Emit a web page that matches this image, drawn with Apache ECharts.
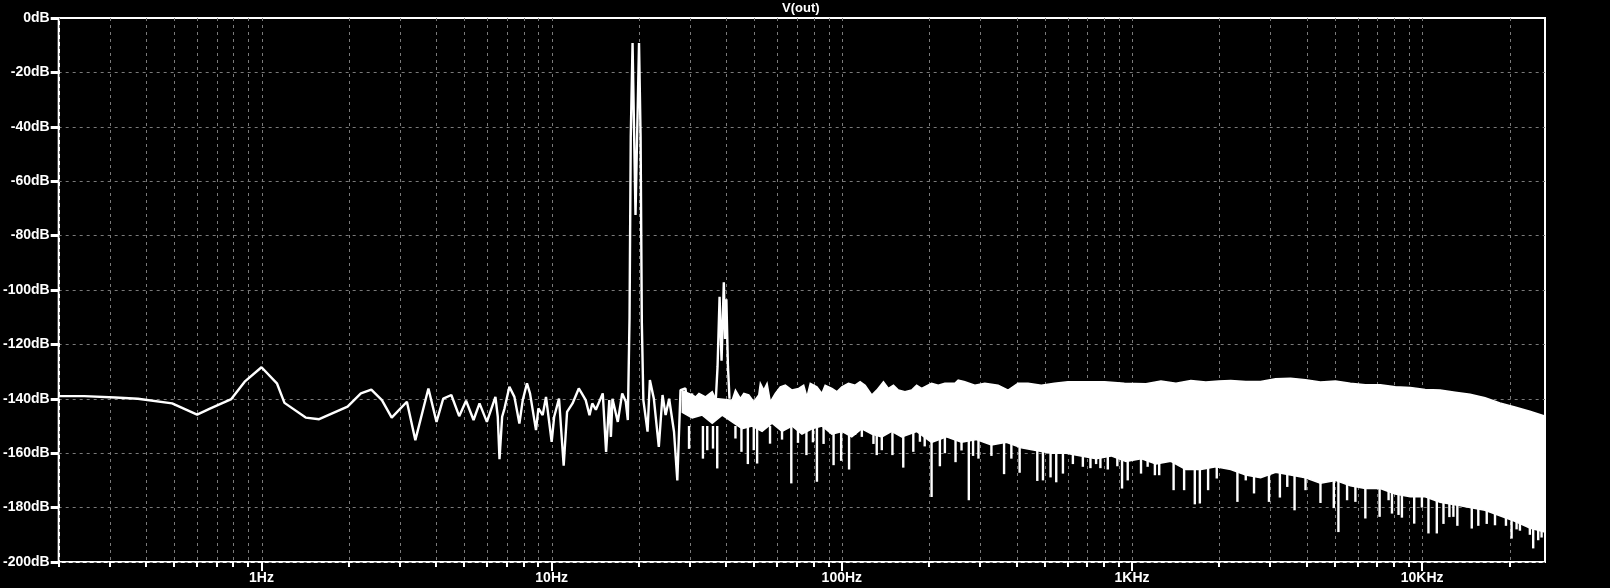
<!DOCTYPE html>
<html><head><meta charset="utf-8">
<script src="https://cdn.jsdelivr.net/npm/echarts@6/dist/echarts.min.js"></script>
<style>html,body{margin:0;padding:0;background:#000;}#c{width:1610px;height:588px;}</style>
</head><body><div id="c"></div>
<script>
// ---------- data ----------
const titleText = 'V(out)';
const xMin = 0.2, xMax = 26500;
const xDecades = [1, 10, 100, 1000, 10000];
const xDecadeLabels = ['1Hz', '10Hz', '100Hz', '1KHz', '10KHz'];
const xMinorGrid = [0.2,0.3,0.4,0.5,0.6,0.7,0.8,0.9, 2,3,4,5,6,7,8,9, 20,30,40,50,60,70,80,90,
  200,300,400,500,600,700,800,900, 2000,3000,4000,5000,6000,7000,8000,9000, 20000];
const yTicks = [0,-20,-40,-60,-80,-100,-120,-140,-160,-180,-200];
const yUnit = 'dB';

// low-frequency part of V(out) spectrum, with the 19 Hz / 20 Hz tones
const lowTrace = [[0.2,-139],[0.245,-139],[0.313,-139.5],[0.375,-140],[0.492,-141.7],[0.6,-145.8],[0.667,-143.5],
  [0.787,-140.1],[0.875,-133.7],[1.0,-128.4],[1.13,-134.3],[1.2,-141.5],[1.42,-146.9],[1.58,-147.5],[1.98,-142.9],
  [2.2,-138],[2.39,-136.6],[2.6,-140.5],[2.81,-146.9],[3.17,-141.1],[3.39,-155.2],[3.76,-136.2],[4.01,-148.5],
  [4.23,-139.9],[4.51,-138.6],[4.8,-146.4],[5.07,-140.7],[5.38,-147.8],[5.64,-141.7],[5.98,-148.5],[6.4,-139.3],
  [6.52,-146.6],[6.61,-162.2],[6.75,-146.6],[6.88,-143.5],[7.15,-135.6],[7.44,-139.3],[7.74,-149.1],[7.95,-140.5],
  [8.22,-134.3],[8.42,-138],[8.83,-151.5],[9.0,-143.5],[9.31,-146],[9.56,-139.3],[10.0,-155.8],[10.2,-146.6],
  [10.6,-139.9],[11.0,-164.6],[11.3,-144.8],[11.8,-141.7],[12.4,-136.2],[12.7,-138],[13.1,-140.5],[13.5,-146],
  [13.8,-141.7],[14.2,-144],[15.0,-138],[15.4,-159.5],[15.8,-140.5],[16.0,-154],[16.2,-140],[16.9,-148.5],
  [17.5,-138],[18.0,-141],[18.3,-147.8],[18.55,-110.4],[18.73,-43.6],[19.0,-9.2],[19.45,-72.4],[20.0,-9.2],
  [20.25,-43.6],[20.45,-112],[20.7,-140.5],[21.4,-152.1],[21.8,-133.1],[22.5,-140],[23.4,-157.7],[24.1,-138.6],
  [24.7,-146],[25.4,-140],[26.4,-152.1],[27.1,-170],[27.8,-136.8],[28.9,-136.2],[29.8,-146],[30.5,-138]];

// intermodulation products near 38-40 Hz
const imdTrace = [[36.8,-140],[37.3,-128],[37.9,-102.5],[38.5,-126],[39.2,-97.2],[39.6,-118],[40.0,-103.4],
  [40.5,-128],[41,-140]];

// dense noise floor: upper edge and lower solid edge
const bandTop = [[28.19,-137],[30.5,-138.6],[31.33,-139.3],[32.18,-138],[33.9,-139.3],[35.75,-137.4],[36.7,-139.9],
  [41.88,-140.5],[42.99,-136.8],[44.72,-139.9],[45.94,-138],[47.78,-138.6],[49.71,-141.1],[51.72,-138.6],
  [52.38,-134.3],[53.81,-136.8],[55.25,-134.3],[56.69,-141.1],[58.98,-138],[61.38,-135.6],[63.86,-135],
  [67.33,-136.8],[71.0,-136.2],[73.86,-135],[75.82,-139.3],[77.84,-134.3],[82.06,-135.6],[85.37,-138],[87.6,-135],
  [92.4,-136.2],[96.1,-137.4],[100,-135.6],[105.4,-134.3],[111.1,-135],[115.6,-133.7],[120.3,-135],[126.8,-138.6],
  [131.9,-136.8],[139.1,-133.7],[144.7,-136.2],[150.6,-135],[156.6,-136.8],[165,-137.4],[174,-136.8],[181,-135],
  [188.3,-136.2],[203.8,-134.3],[214.9,-135],[226.5,-134.3],[245.2,-134.3],[251.8,-133.1],[265.3,-133.7],
  [287.2,-135],[310.9,-134.3],[345.6,-135],[374.1,-136.8],[404.9,-134.3],[438.1,-134.3],[486.8,-135],[540.8,-134.3],
  [601.2,-133.7],[685.8,-133.7],[803.2,-133.7],[941,-134.3],[1117,-134.5],[1258,-133.5],[1417,-134.3],[1595,-133.3],
  [1796,-133.8],[1991,-133.5],[2189,-133.3],[2466,-133.6],[2775,-133.6],[3125,-132.6],[3519,-132.4],[3962,-133],
  [4461,-133.8],[5023,-133.5],[5656,-134.3],[6369,-134.8],[7173,-134.8],[8076,-135.6],[9095,-135.8],[10240,-136.6],
  [11530,-136.8],[12985,-137.6],[14620,-138.3],[16465,-139.6],[18535,-141.5],[20870,-143],[23500,-144.6],
  [26470,-146.3]];
const bandBottom = [[28.19,-145],[30.5,-147],[33.03,-146],[35.75,-149],[38.69,-146],[41.88,-148.5],[45.33,-151],
  [49.06,-150],[53.11,-152],[57.47,-149],[62.21,-152],[67.33,-150],[72.87,-153],[78.88,-151],[85.37,-150],
  [92.4,-153],[100,-152],[108.2,-154],[117.2,-151],[126.8,-153],[137.3,-154],[148.5,-152],[160.8,-154],[181,-152],
  [203.8,-156],[229.5,-154],[258.5,-156],[291,-155],[327.7,-157],[369,-156],[415.5,-158],[467.9,-159],[526.8,-160],
  [593.2,-160],[667.9,-161],[752,-162],[847,-161],[953.6,-163],[1074,-162],[1209,-164],[1361,-163],[1533,-166],
  [1727,-166],[1944,-165],[2189,-166],[2466,-168],[2775,-169],[3125,-167],[3519,-168],[3962,-169],[4461,-171],
  [5023,-170],[5656,-172],[6369,-173],[7173,-173],[8076,-175],[9095,-176],[10240,-176],[11530,-178],[12985,-179],
  [14620,-180],[16465,-181],[18535,-183],[20870,-185],[23500,-187.5],[26470,-189]];
// downward excursions of the noise floor
const spikes = [[29.74,-158.4],[33.21,-162],[34.37,-158.9],[35.97,-158.3],[37.2,-165.6],[42.99,-154.6],
  [45.08,-159.5],[47.43,-164],[49.71,-158.9],[51.05,-163.8],[56.56,-156.5],[62.21,-155],[66.96,-171.1],
  [70.6,-156.2],[75.5,-160.7],[79.49,-156],[82.06,-170.5],[86.5,-156.6],[93.65,-164.4],[99.45,-162.8],
  [105.9,-166],[111.1,-153.3],[117.2,-154],[128.5,-156.6],[131.9,-160.7],[137.3,-158.9],[149.4,-160.7],
  [162.8,-165.3],[176.3,-159.5],[185.8,-155.8],[193,-157.5],[203.8,-176.1],[217.7,-164.8],[226.5,-160],
  [246.5,-163.3],[258.5,-159],[273.9,-177.3],[283.3,-161],[295.7,-162],[327.7,-161],[362.3,-167.7],[383.9,-162],
  [409.9,-167.2],[471.6,-170.2],[493.3,-170],[523.9,-168.9],[548.1,-170.7],[578,-167.5],[601,-160.2],[625.5,-164],
  [677,-165],[719.1,-165.5],[752,-164],[778.2,-165.5],[825,-166],[890,-164.8],[923.9,-173],[966.5,-170],
  [1074,-167.5],[1132,-165],[1199,-168.1],[1241,-168.1],[1391,-173.6],[1512,-173.6],[1646,-178.8],[1713,-178.5],
  [1829,-173.6],[1959,-169.3],[2308,-177.9],[2466,-170],[2633,-174.8],[2964,-177.9],[3233,-176.3],[3428,-172.4],
  [3632,-181],[3962,-173.6],[4461,-178.3],[4958,-180.2],[5144,-189],[5510,-177.3],[5886,-177.9],[6369,-184],
  [7133,-183.4],[7660,-177.3],[7868,-182.2],[8288,-182.7],[8514,-183.7],[9387,-185.9],[9977,-180],[10510,-189.5],
  [11230,-189.5],[11840,-186],[12410,-183.5],[12810,-183.4],[13220,-186.7],[14820,-187.7],[15610,-186.7],
  [16690,-186],[17820,-186.5],[19440,-186.7],[20330,-191.4],[21150,-188],[21720,-188.5],[23500,-190],
  [24130,-195],[25110,-192],[25790,-191]];

// ---------- chart ----------
const chart = echarts.init(document.getElementById('c'), null, {renderer: 'canvas'});
const FONT = 'Liberation Sans';
const yTop = yTicks[0], yBot = yTicks[yTicks.length - 1];

function gridLine(params, api) {
  const f = api.value(0);
  const a = api.coord([f, yTop]), b = api.coord([f, yBot]);
  const x = Math.round(a[0]) + 0.5;
  return {type: 'line', shape: {x1: x, y1: a[1], x2: x, y2: b[1]},
    style: {stroke: '#7a7a7a', lineWidth: 1, lineDash: [3, 4]}, silent: true};
}
function tickMark(len) {
  return function (params, api) {
    const p = api.coord([api.value(0), yBot]);
    const x = Math.round(p[0]);
    return {type: 'line', shape: {x1: x, y1: p[1], x2: x, y2: p[1] + len},
      style: {stroke: '#fff', lineWidth: 2}, silent: true};
  };
}
function bandShape(params, api) {
  const pts = bandTop.map(d => api.coord(d)).concat(bandBottom.slice().reverse().map(d => api.coord(d)));
  return {type: 'polygon', shape: {points: pts}, style: {fill: '#fff', stroke: '#fff', lineWidth: 1.5}};
}
const needleTop = -150;
function needle(params, api) {
  const f = api.value(0);
  const a = api.coord([f, api.value(1)]), b = api.coord([f, needleTop]);
  return {type: 'line', shape: {x1: a[0], y1: a[1], x2: b[0], y2: b[1]},
    style: {stroke: '#fff', lineWidth: 2.4}};
}

chart.setOption({
  animation: false,
  backgroundColor: '#000',
  title: {text: titleText, left: 782, top: 2, padding: 0,
    textStyle: {color: '#fff', fontSize: 13, fontWeight: 'bold', fontFamily: FONT}},
  grid: {left: 54, right: 65, top: 18, bottom: 26, show: true, borderColor: '#fff', borderWidth: 2,
    backgroundColor: '#000'},
  xAxis: {
    type: 'log', logBase: 10, min: xMin, max: xMax,
    axisLine: {show: true, lineStyle: {color: '#fff', width: 2}},
    axisTick: {show: false}, splitLine: {show: false}, minorTick: {show: false},
    axisLabel: {color: '#fff', fontSize: 14, fontWeight: 'bold', fontFamily: FONT, margin: 9, interval: 0,
      formatter: function (v) {
        for (let i = 0; i < xDecades.length; i++) {
          if (Math.abs(v - xDecades[i]) / xDecades[i] < 1e-6) return xDecadeLabels[i];
        }
        return '';
      }}
  },
  yAxis: {
    type: 'value', min: yBot, max: yTop, interval: 20,
    axisLine: {show: true, lineStyle: {color: '#fff', width: 2}},
    axisTick: {show: true, length: 8, lineStyle: {color: '#fff', width: 3}},
    splitLine: {show: true, lineStyle: {color: '#7a7a7a', width: 1, type: [3, 4]}},
    axisLabel: {color: '#fff', fontSize: 14, fontWeight: 'bold', fontFamily: FONT, margin: 9,
      formatter: v => v + yUnit}
  },
  series: [
    {type: 'custom', name: 'grid', coordinateSystem: 'cartesian2d', renderItem: gridLine, clip: false, z: 1,
      silent: true, data: xMinorGrid.concat(xDecades).map(f => [f, yBot])},
    {type: 'custom', name: 'minorTicks', coordinateSystem: 'cartesian2d', renderItem: tickMark(5), clip: false, z: 5,
      silent: true, data: xMinorGrid.map(f => [f, yBot])},
    {type: 'custom', name: 'decadeTicks', coordinateSystem: 'cartesian2d', renderItem: tickMark(9), clip: false, z: 5,
      silent: true, data: xDecades.map(f => [f, yBot])},
    {type: 'custom', name: 'noise floor', coordinateSystem: 'cartesian2d', renderItem: bandShape, z: 2,
      data: [bandTop[0]]},
    {type: 'custom', name: 'noise dips', coordinateSystem: 'cartesian2d', renderItem: needle, z: 2,
      data: spikes},
    {type: 'line', name: 'V(out)', data: lowTrace, showSymbol: false, symbol: 'none', z: 3,
      lineStyle: {color: '#fff', width: 2.4}},
    {type: 'line', name: 'V(out) imd', data: imdTrace, showSymbol: false, symbol: 'none', z: 3,
      lineStyle: {color: '#fff', width: 2.4}}
  ]
});
</script></body></html>
